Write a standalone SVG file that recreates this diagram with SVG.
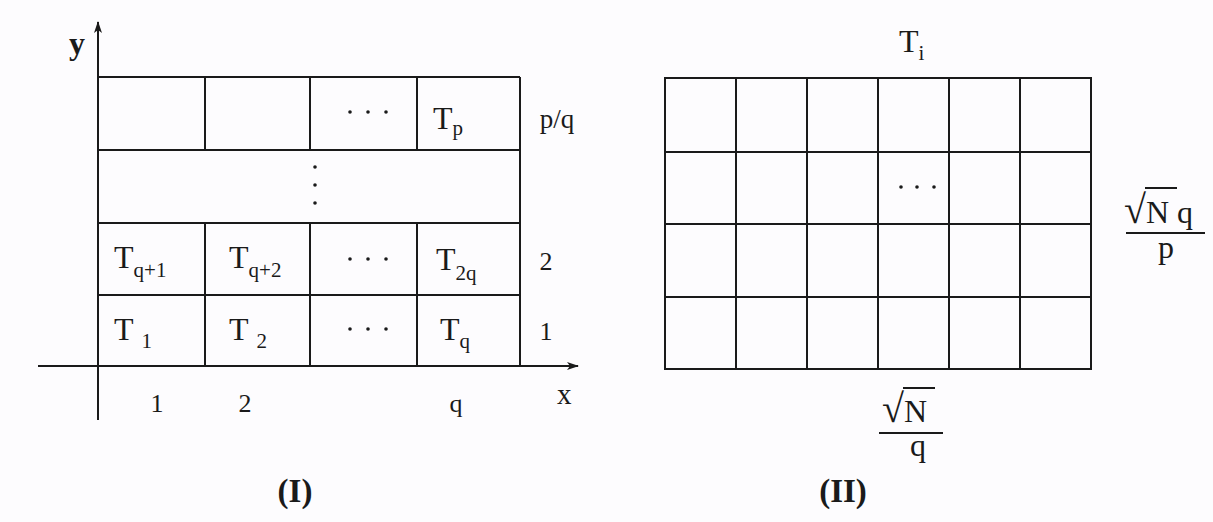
<svg xmlns="http://www.w3.org/2000/svg" width="1213" height="522" viewBox="0 0 1213 522">
<style>
.ln{stroke:#1a1a1a;stroke-width:2;fill:none}
.t{font-family:"Liberation Serif",serif;fill:#1a1a1a;font-size:32px}
.n{font-size:26px}
.s{font-size:21px}
.rad{font-size:40px}
.d{fill:#1a1a1a}
.cap{font-family:"Liberation Serif",serif;fill:#1a1a1a;font-size:33px;font-weight:bold}
</style>
<defs>
<marker id="ah" viewBox="0 0 12 8" refX="11" refY="4" markerWidth="12" markerHeight="8" markerUnits="userSpaceOnUse" orient="auto">
<path d="M0,0 L12,4 L0,8 L3,4 Z" fill="#1a1a1a"/>
</marker>
</defs>
<rect width="1213" height="522" fill="#fdfcfe"/>
<g id="connectors">
<line class="ln" x1="98" y1="420" x2="98" y2="22" marker-end="url(#ah)"/>
<line class="ln" x1="38" y1="366" x2="578" y2="366" marker-end="url(#ah)"/>
</g>
<g id="gridI">
<line class="ln" x1="98" y1="77" x2="520" y2="77"/>
<line class="ln" x1="98" y1="150" x2="520" y2="150"/>
<line class="ln" x1="98" y1="223" x2="520" y2="223"/>
<line class="ln" x1="98" y1="295" x2="520" y2="295"/>
<line class="ln" x1="520" y1="77" x2="520" y2="366"/>
<line class="ln" x1="205" y1="77" x2="205" y2="150"/>
<line class="ln" x1="310" y1="77" x2="310" y2="150"/>
<line class="ln" x1="417" y1="77" x2="417" y2="150"/>
<line class="ln" x1="205" y1="223" x2="205" y2="366"/>
<line class="ln" x1="310" y1="223" x2="310" y2="366"/>
<line class="ln" x1="417" y1="223" x2="417" y2="366"/>
</g>
<g id="labelsI">
<text class="t" x="69" y="54" style="font-size:32px;font-weight:bold">y</text>
<text class="t" x="557" y="404" style="font-size:29px">x</text>
<text class="t n" x="157" y="412" text-anchor="middle">1</text>
<text class="t n" x="245" y="412" text-anchor="middle">2</text>
<text class="t n" x="456" y="412" text-anchor="middle">q</text>
<text class="t" x="557" y="128" text-anchor="middle" style="font-size:27px">p/q</text>
<text class="t n" x="546" y="270" text-anchor="middle">2</text>
<text class="t n" x="546" y="340" text-anchor="middle">1</text>
</g>
<g id="cellTp"><text class="t" x="433" y="129">T<tspan class="s" dy="6">p</tspan></text></g>
<g id="cellTq1"><text class="t" x="114" y="268">T<tspan class="s" dy="9">q+1</tspan></text></g>
<g id="cellTq2"><text class="t" x="229" y="268">T<tspan class="s" dy="9">q+2</tspan></text></g>
<g id="cellT2q"><text class="t" x="436" y="270">T<tspan class="s" dy="10">2q</tspan></text></g>
<g id="cellT1"><text class="t" x="114" y="340">T<tspan class="s" dx="8" dy="8">1</tspan></text></g>
<g id="cellT2"><text class="t" x="229" y="340">T<tspan class="s" dx="8" dy="8">2</tspan></text></g>
<g id="cellTq"><text class="t" x="440" y="340">T<tspan class="s" dy="8">q</tspan></text></g>
<g id="dotsI">
<circle class="d" cx="350" cy="112" r="1.8"/><circle class="d" cx="368" cy="112" r="1.8"/><circle class="d" cx="386" cy="112" r="1.8"/>
<circle class="d" cx="350" cy="259" r="1.8"/><circle class="d" cx="368" cy="259" r="1.8"/><circle class="d" cx="386" cy="259" r="1.8"/>
<circle class="d" cx="350" cy="329" r="1.8"/><circle class="d" cx="368" cy="329" r="1.8"/><circle class="d" cx="386" cy="329" r="1.8"/>
<circle class="d" cx="315" cy="167" r="1.8"/><circle class="d" cx="315" cy="185" r="1.8"/><circle class="d" cx="315" cy="203" r="1.8"/>
</g>
<g id="gridII">
<rect class="ln" x="665" y="78" width="426" height="291"/>
<line class="ln" x1="736" y1="78" x2="736" y2="369"/>
<line class="ln" x1="807" y1="78" x2="807" y2="369"/>
<line class="ln" x1="878" y1="78" x2="878" y2="369"/>
<line class="ln" x1="949" y1="78" x2="949" y2="369"/>
<line class="ln" x1="1020" y1="78" x2="1020" y2="369"/>
<line class="ln" x1="665" y1="152" x2="1091" y2="152"/>
<line class="ln" x1="665" y1="224" x2="1091" y2="224"/>
<line class="ln" x1="665" y1="297" x2="1091" y2="297"/>
<circle class="d" cx="901" cy="187" r="1.8"/><circle class="d" cx="917" cy="187" r="1.8"/><circle class="d" cx="934" cy="187" r="1.8"/>
</g>
<g id="labelsII">
<text class="t" x="899" y="52">T<tspan class="s" dy="8">i</tspan></text>
<text class="t" x="1124" y="223"><tspan class="rad">√</tspan>N q</text>
<line class="ln" x1="1145" y1="188" x2="1177" y2="188" stroke-width="1.5"/>
<line class="ln" x1="1126" y1="233" x2="1205" y2="233"/>
<text class="t" x="1166" y="258" text-anchor="middle">p</text>
<text class="t" x="882" y="422"><tspan class="rad">√</tspan>N</text>
<line class="ln" x1="903" y1="388" x2="935" y2="388" stroke-width="1.5"/>
<line class="ln" x1="879" y1="433" x2="943" y2="433"/>
<text class="t" x="918" y="456" text-anchor="middle">q</text>
</g>
<g id="captions">
<text class="cap" x="295" y="502" text-anchor="middle">(I)</text>
<text class="cap" x="843" y="502" text-anchor="middle">(II)</text>
</g>
</svg>
